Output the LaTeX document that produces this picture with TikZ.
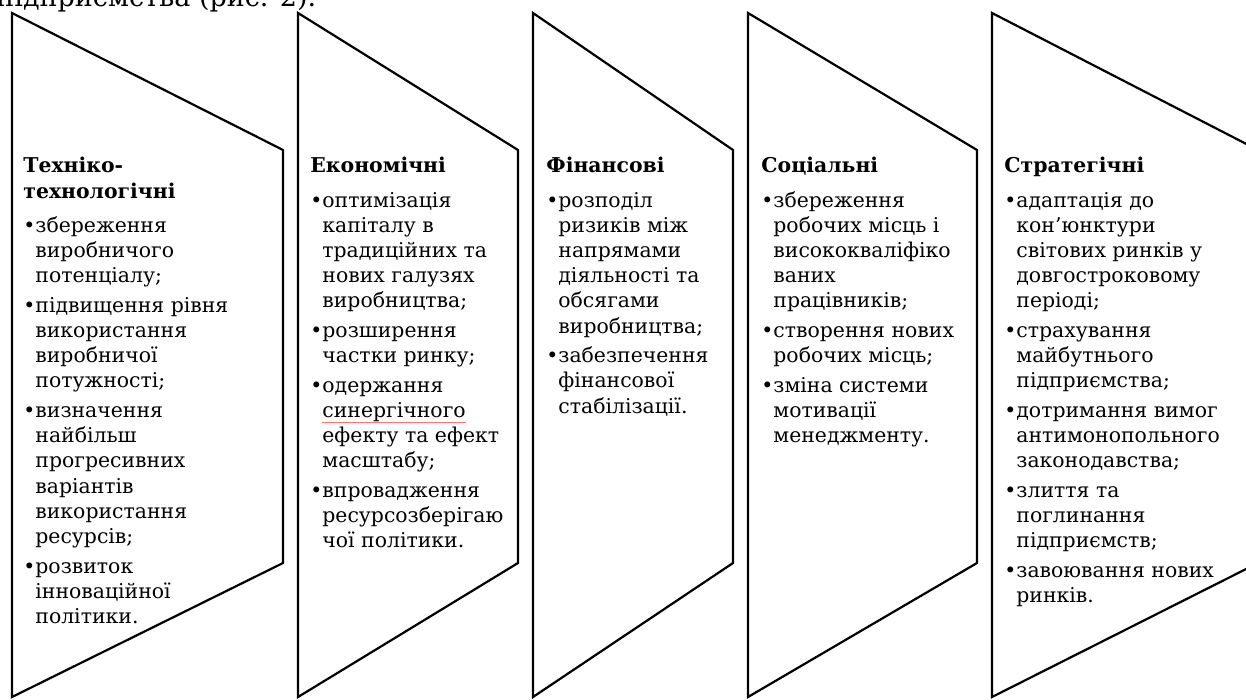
\documentclass[tikz,border=0pt]{standalone}
\usepackage{fontspec}
\setmainfont{DejaVu Serif}
\usepackage{tikz}

\tikzset{
  panel/.style={draw, line width=1.1pt, line join=miter},
  blocktext/.style={anchor=north west, align=left, inner sep=0pt,
    font=\fontsize{10.2}{12.6}\selectfont},
}
% bullet and hanging indent for the lists
\newcommand{\blt}{\makebox[6pt][l]{\textbullet}}
\newcommand{\ind}{\hspace*{6pt}}
% red spell-check underline
\newcommand{\spellmark}[1]{\setbox0\hbox{#1}\rlap{\textcolor{red!55}{\rule[-2.6pt]{\wd0}{0.45pt}}}\box0}

\begin{document}
\begin{tikzpicture}[x=0.5pt, y=-0.5pt]
        \useasboundingbox (0,0) rectangle (1246,700);
        \clip (0,0) rectangle (1246,700);

        % Last line of the text above the figure
        \node[anchor=base west, inner sep=0pt, font=\fontsize{13.5}{16}\selectfont] (caption) at (-4,7) {підприємства (рис. 2).};

        % Draw the five panels (the last one runs past the right edge)
        \foreach \l/\r in {12/283, 298/518, 533/733, 748/977, 992/1258}
            \draw[panel] (\l,13) -- (\r,150) -- (\r,563) -- (\l,697) -- cycle;

        % Techno-technological
        \node[blocktext] (tech) at (23,157) {\textbf{Техніко-}\\ \textbf{технологічні}\\[4.5pt]
            \blt збереження\\ \ind виробничого\\ \ind потенціалу;\\[2.2pt]
            \blt підвищення рівня\\ \ind використання\\ \ind виробничої\\ \ind потужності;\\[2.2pt]
            \blt визначення\\ \ind найбільш\\ \ind прогресивних\\ \ind варіантів\\ \ind використання\\ \ind ресурсів;\\[2.2pt]
            \blt розвиток\\ \ind інноваційної\\ \ind політики.};

        % Economic
        \node[blocktext] (econ) at (310,157) {\textbf{Економічні}\\[4.5pt]
            \blt оптимізація\\ \ind капіталу в\\ \ind традиційних та\\ \ind нових галузях\\ \ind виробництва;\\[2.2pt]
            \blt розширення\\ \ind частки ринку;\\[2.2pt]
            \blt одержання\\ \ind \spellmark{синергічного}\\ \ind ефекту та ефект\\ \ind масштабу;\\[2.2pt]
            \blt впровадження\\ \ind ресурсозберігаю\\ \ind чої політики.};

        % Financial
        \node[blocktext] (fin) at (546,157) {\textbf{Фінансові}\\[4.5pt]
            \blt розподіл\\ \ind ризиків між\\ \ind напрямами\\ \ind діяльності та\\ \ind обсягами\\ \ind виробництва;\\[2.2pt]
            \blt забезпечення\\ \ind фінансової\\ \ind стабілізації.};

        % Social
        \node[blocktext] (soc) at (761,157) {\textbf{Соціальні}\\[4.5pt]
            \blt збереження\\ \ind робочих місць і\\ \ind висококваліфіко\\ \ind ваних\\ \ind працівників;\\[2.2pt]
            \blt створення нових\\ \ind робочих місць;\\[2.2pt]
            \blt зміна системи\\ \ind мотивації\\ \ind менеджменту.};

        % Strategic
        \node[blocktext] (strat) at (1004,157) {\textbf{Стратегічні}\\[4.5pt]
            \blt адаптація до\\ \ind кон’юнктури\\ \ind світових ринків у\\ \ind довгостроковому\\ \ind періоді;\\[2.2pt]
            \blt страхування\\ \ind майбутнього\\ \ind підприємства;\\[2.2pt]
            \blt дотримання вимог\\ \ind антимонопольного\\ \ind законодавства;\\[2.2pt]
            \blt злиття та\\ \ind поглинання\\ \ind підприємств;\\[2.2pt]
            \blt завоювання нових\\ \ind ринків.};
    \end{tikzpicture}
\end{document}
